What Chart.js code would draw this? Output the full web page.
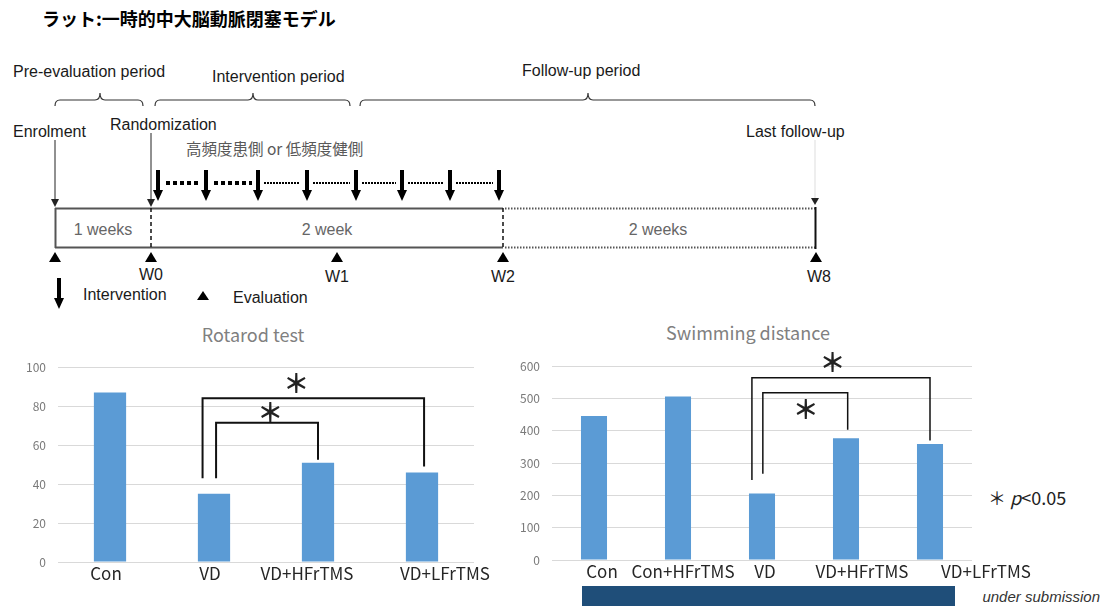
<!DOCTYPE html>
<html>
<head>
<meta charset="utf-8">
<script src="https://cdn.jsdelivr.net/npm/chart.js@4.4.1/dist/chart.umd.min.js"></script>
<style>
  body { margin: 0; background: #fff; width: 1104px; height: 606px; overflow: hidden; position: relative; }
  canvas { position: absolute; }
  .t { position: absolute; font-family: "Noto Sans CJK JP", sans-serif; white-space: nowrap; }
</style>
</head>
<body>
<svg width="1104" height="606" style="position:absolute;left:0;top:0" font-family="Liberation Sans, Arial, sans-serif" font-size="16" fill="#1a1a1a">
  <text x="42" y="18" font-size="18" font-weight="bold" font-family="Noto Sans CJK JP" dominant-baseline="central" fill="#000">ラット:一時的中大脳動脈閉塞モデル</text>

  <!-- period labels and braces -->
  <text x="13" y="71" dominant-baseline="central">Pre-evaluation period</text>
  <text x="212" y="76" dominant-baseline="central">Intervention period</text>
  <text x="522" y="70" dominant-baseline="central">Follow-up period</text>
  <g fill="none" stroke="#333" stroke-width="1.2">
    <path d="M55,106 Q55,100 60,100 H95 Q100,100 100,93 Q100,100 105,100 H138 Q143,100 143,106"/>
    <path d="M155,106 Q155,100 160,100 H248 Q253,100 253,93 Q253,100 258,100 H345 Q350,100 350,106"/>
    <path d="M360,106 Q360,100 365,100 H583 Q588,100 588,93 Q588,100 593,100 H810 Q815,100 815,106"/>
  </g>

  <text x="13" y="131" dominant-baseline="central">Enrolment</text>
  <text x="110" y="124" dominant-baseline="central">Randomization</text>
  <text x="746" y="131" dominant-baseline="central">Last follow-up</text>
  <text x="186" y="148" font-family="Noto Sans CJK JP" font-size="15.5" fill="#595959" dominant-baseline="central">高頻度患側 or 低頻度健側</text>

  <!-- thin arrows -->
  <line x1="55" y1="140" x2="55" y2="200" stroke="#222" stroke-width="1"/>
  <polygon points="51,199 59,199 55,207" fill="#222"/>
  <line x1="151" y1="133" x2="151" y2="200" stroke="#222" stroke-width="1"/>
  <polygon points="147,199 155,199 151,207" fill="#222"/>
  <line x1="815" y1="140" x2="815" y2="198" stroke="#ddd" stroke-width="1"/>
  <polygon points="811,198 819,198 815,205" fill="#222"/>

  <!-- intervention arrows -->
  <g fill="#000">
    <rect x="156" y="170" width="4" height="22"/><polygon points="153,190 163,190 158,201"/>
    <rect x="204" y="170" width="4" height="22"/><polygon points="201,190 211,190 206,201"/>
    <rect x="256" y="170" width="4" height="22"/><polygon points="253,190 263,190 258,201"/>
    <rect x="305" y="170" width="4" height="22"/><polygon points="302,190 312,190 307,201"/>
    <rect x="354" y="170" width="4" height="22"/><polygon points="351,190 361,190 356,201"/>
    <rect x="400" y="170" width="4" height="22"/><polygon points="397,190 407,190 402,201"/>
    <rect x="448" y="170" width="4" height="22"/><polygon points="445,190 455,190 450,201"/>
    <rect x="497" y="170" width="4" height="22"/><polygon points="494,190 504,190 499,201"/>
  </g>
  <g stroke="#000">
    <line x1="166" y1="183" x2="200" y2="183" stroke-width="4" stroke-dasharray="4,3"/>
    <line x1="214" y1="183" x2="252" y2="183" stroke-width="4" stroke-dasharray="4,3"/>
    <line x1="264" y1="183" x2="300" y2="183" stroke-width="2" stroke-dasharray="2,1"/>
    <line x1="313" y1="183" x2="350" y2="183" stroke-width="2" stroke-dasharray="2,1"/>
    <line x1="362" y1="183" x2="396" y2="183" stroke-width="2" stroke-dasharray="2,1"/>
    <line x1="408" y1="183" x2="444" y2="183" stroke-width="2" stroke-dasharray="2,1"/>
    <line x1="456" y1="183" x2="493" y2="183" stroke-width="2" stroke-dasharray="2,1"/>
  </g>

  <!-- timeline box -->
  <g fill="none">
    <line x1="55" y1="208.5" x2="503" y2="208.5" stroke="#555" stroke-width="2"/>
    <line x1="55" y1="247.5" x2="503" y2="247.5" stroke="#555" stroke-width="2"/>
    <line x1="55.5" y1="208" x2="55.5" y2="248" stroke="#555" stroke-width="2"/>
    <line x1="151" y1="208" x2="151" y2="248" stroke="#111" stroke-width="1.5" stroke-dasharray="4,3"/>
    <line x1="503" y1="208" x2="503" y2="248" stroke="#111" stroke-width="1.5" stroke-dasharray="4,3"/>
    <line x1="505" y1="208.5" x2="815" y2="208.5" stroke="#555" stroke-width="2" stroke-dasharray="1.5,1.5"/>
    <line x1="505" y1="247.5" x2="815" y2="247.5" stroke="#555" stroke-width="2" stroke-dasharray="1.5,1.5"/>
    <line x1="815.5" y1="207" x2="815.5" y2="249" stroke="#111" stroke-width="2"/>
  </g>
  <g fill="#666" text-anchor="middle">
    <text x="103" y="229" dominant-baseline="central">1 weeks</text>
    <text x="327" y="229" dominant-baseline="central">2 week</text>
    <text x="658" y="229" dominant-baseline="central">2 weeks</text>
  </g>

  <!-- evaluation points -->
  <g fill="#000">
    <polygon points="49,262 61,262 55,252"/>
    <polygon points="145,262 157,262 151,252"/>
    <polygon points="331,262 343,262 337,252"/>
    <polygon points="497,262 509,262 503,252"/>
    <polygon points="810,262 822,262 816,252"/>
  </g>
  <g text-anchor="middle">
    <text x="151" y="274" dominant-baseline="central">W0</text>
    <text x="337" y="276" dominant-baseline="central">W1</text>
    <text x="503" y="276" dominant-baseline="central">W2</text>
    <text x="819" y="276" dominant-baseline="central">W8</text>
  </g>

  <!-- legend -->
  <rect x="57" y="278" width="4" height="21" fill="#000"/>
  <polygon points="54,298 64,298 59,309" fill="#000"/>
  <text x="83" y="294" dominant-baseline="central">Intervention</text>
  <polygon points="197,300 209,300 203,291" fill="#000"/>
  <text x="233" y="297" dominant-baseline="central">Evaluation</text>

  <!-- footnotes -->
  <text x="988" y="497" font-family="Noto Sans CJK JP" font-size="18" fill="#222" dominant-baseline="central">＊ <tspan font-style="italic">p</tspan>&lt;0.05</text>
  <rect x="582" y="586" width="373" height="20" fill="#1f4e79"/>
  <text x="1100" y="596" text-anchor="end" font-size="15" font-style="italic" fill="#333" dominant-baseline="central">under submission</text>
</svg>

<div class="t" style="left:153px;top:321px;width:200px;text-align:center;font-size:18px;color:#808080;">Rotarod test</div>
<div class="t" style="left:648px;top:319px;width:200px;text-align:center;font-size:18px;color:#808080;">Swimming distance</div>

<canvas id="rota" width="500" height="242" style="left:0;top:348px"></canvas>
<canvas id="swim" width="560" height="241" style="left:500px;top:347px"></canvas>

<script>
// Rotarod test
const rotaCats = ["Con", "VD", "VD+HFrTMS", "VD+LFrTMS"];
const rotaVals = [87, 35, 51, 46];
const rotaTicks = [0, 20, 40, 60, 80, 100];
// significance brackets: category positions a/b, bracket top, leg ends, star position
const rotaSig = [
  { a: 0.89, b: 3.02, top: 84, aEnd: 43, bEnd: 49, sx: 1.79, sy: 92 },
  { a: 1.02, b: 2.0, top: 71.5, aEnd: 43, bEnd: 52.5, sx: 1.54, sy: 77 }
];

// Swimming distance
const swimCats = ["Con", "Con+HFrTMS", "VD", "VD+HFrTMS", "VD+LFrTMS"];
const swimVals = [446, 506, 206, 377, 359];
const swimTicks = [0, 100, 200, 300, 400, 500, 600];
const swimSig = [
  { a: 1.88, b: 4.0, top: 564, aEnd: 248, bEnd: 370, sx: 2.84, sy: 612 },
  { a: 2.01, b: 3.02, top: 518, aEnd: 267, bEnd: 403, sx: 2.52, sy: 468 }
];

const fam = '"Noto Sans CJK JP", sans-serif';

// the category labels sit a little off-centre in the original, as Excel left them
function sigPlugin(items, lw, shift) {
  return {
    id: "sig",
    afterDatasetsDraw(chart) {
      let ctx = chart.ctx;
      let x = chart.scales.x, y = chart.scales.y;
      let x0 = x.getPixelForValue(0);
      let step = x.getPixelForValue(1) - x0;
      let px = v => x0 + v * step;
      ctx.save();
      ctx.strokeStyle = "#111";
      ctx.lineWidth = lw;
      for (let s of items) {
        ctx.beginPath();
        ctx.moveTo(px(s.a), y.getPixelForValue(s.aEnd));
        ctx.lineTo(px(s.a), y.getPixelForValue(s.top));
        ctx.lineTo(px(s.b), y.getPixelForValue(s.top));
        ctx.lineTo(px(s.b), y.getPixelForValue(s.bEnd));
        ctx.stroke();
        ctx.fillStyle = "#222";
        ctx.font = "bold 26px " + fam;
        ctx.textAlign = "center";
        ctx.textBaseline = "middle";
        ctx.fillText("＊", px(s.sx), y.getPixelForValue(s.sy));
      }
      // category labels
      ctx.fillStyle = "#262626";
      ctx.font = "17px " + fam;
      ctx.textAlign = "center";
      ctx.textBaseline = "top";
      chart.data.labels.forEach((lab, i) => {
        ctx.fillText(lab, px(i) + shift[i], chart.chartArea.bottom + 3);
      });
      ctx.restore();
    }
  };
}

function makeBar(id, cats, vals, ticks, axisW, pad, sig, lw, shift) {
  return new Chart(document.getElementById(id), {
    type: "bar",
    data: {
      labels: cats,
      datasets: [{
        data: vals,
        backgroundColor: "#5b9bd5",
        barPercentage: 0.31,
        categoryPercentage: 1
      }]
    },
    options: {
      responsive: false,
      animation: false,
      layout: { padding: pad },
      plugins: { legend: { display: false }, tooltip: { enabled: false } },
      scales: {
        x: {
          grid: { display: false },
          border: { display: false },
          ticks: { display: false },
          afterFit(s) { s.height = 28; }
        },
        y: {
          min: ticks[0],
          max: ticks[ticks.length - 1],
          afterBuildTicks(s) { s.ticks = ticks.map(v => ({ value: v })); },
          grid: { color: "#d9d9d9", drawTicks: false },
          border: { display: false },
          ticks: { color: "#7a7a7a", font: { size: 12, family: fam }, padding: 12 },
          afterFit(s) { s.width = axisW; }
        }
      }
    },
    plugins: [sigPlugin(sig, lw, shift)]
  });
}

makeBar("rota", rotaCats, rotaVals, rotaTicks, 58, { top: 10, right: 26 }, rotaSig, 2, [-4, -4, -11, 23]);
makeBar("swim", swimCats, swimVals, swimTicks, 52, { top: 16, right: 88 }, swimSig, 1.5, [8, 5, 3, 16, 56]);
</script>
</body>
</html>
